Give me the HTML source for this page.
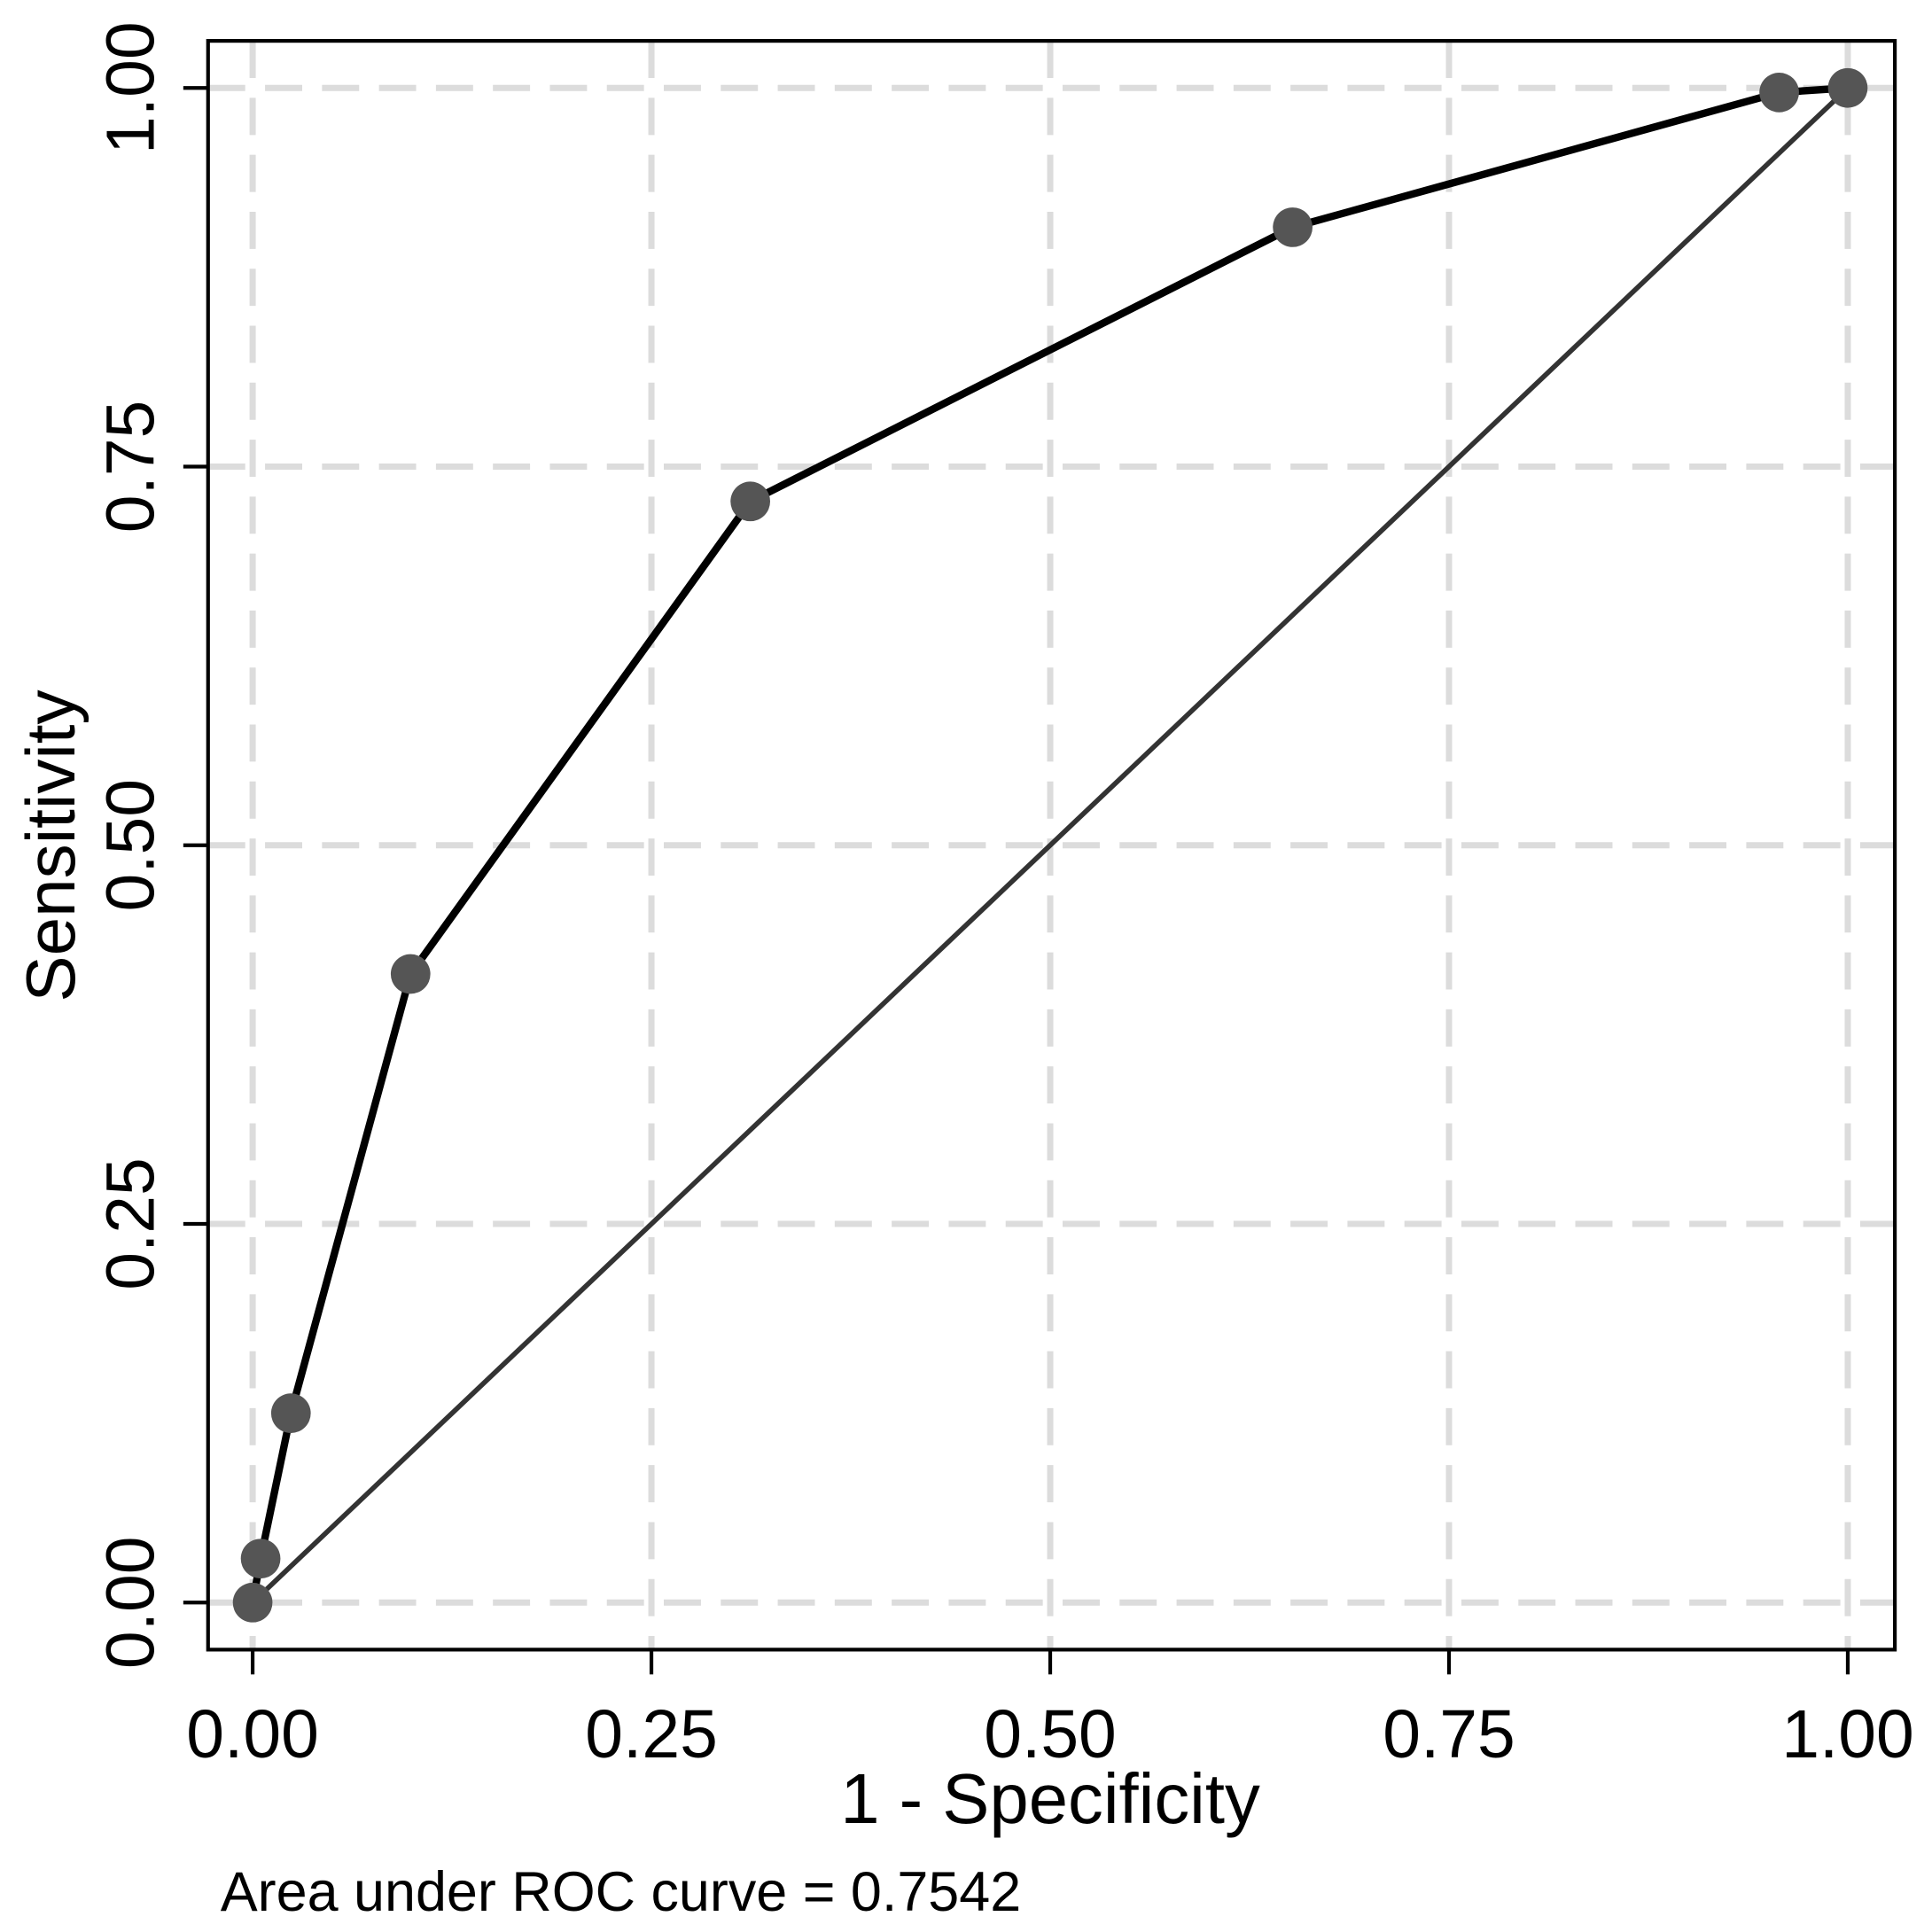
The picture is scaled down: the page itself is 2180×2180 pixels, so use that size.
<!DOCTYPE html>
<html><head><meta charset="utf-8"><style>
html,body{margin:0;padding:0;background:#fff}
svg{display:block}
text{font-family:"Liberation Sans",Arial,sans-serif;fill:#000}
</style></head><body>
<svg id="chart" width="2180" height="2180" viewBox="0 0 1560 1560" xmlns="http://www.w3.org/2000/svg">
<rect x="0" y="0" width="1560" height="1560" fill="#fff"/>
<g id="grid"></g>
<rect x="168" y="33" width="1362" height="1299" fill="none" stroke="#000" stroke-width="3"/>
<g id="ticks"></g>
<g id="marks"></g>
<text x="848" y="1472" font-size="57" text-anchor="middle">1 - Specificity</text>
<text transform="translate(60,683) rotate(-90)" font-size="56" text-anchor="middle">Sensitivity</text>
<text x="178" y="1543" font-size="45">Area under ROC curve = 0.7542</text>
</svg>
<script>
const fpr = [0, 0.005, 0.024, 0.099, 0.312, 0.652, 0.957, 1];
const tpr = [0, 0.029, 0.125, 0.415, 0.727, 0.908, 0.997, 1];
const tickVals = [0, 0.25, 0.5, 0.75, 1];
const tickLabels = ["0.00", "0.25", "0.50", "0.75", "1.00"];

const NS = "http://www.w3.org/2000/svg";
const X0 = 204, X1 = 1492, Y0 = 1294, Y1 = 71;
const sx = v => X0 + v * (X1 - X0);
const sy = v => Y0 - v * (Y0 - Y1);
function mk(tag, attrs, parent) {
  const e = document.createElementNS(NS, tag);
  for (const k in attrs) e.setAttribute(k, attrs[k]);
  parent.appendChild(e);
  return e;
}
const grid = document.getElementById('grid');
const ticks = document.getElementById('ticks');
const marks = document.getElementById('marks');
tickVals.forEach((v, i) => {
  const gx = mk('line', {x1: sx(v), x2: sx(v), y1: 33, y2: 1332, stroke: '#dcdcdc', 'stroke-width': 5, 'stroke-dasharray': '30,16'}, grid);
  
  
  const gy = mk('line', {x1: 168, x2: 1530, y1: sy(v), y2: sy(v), stroke: '#dcdcdc', 'stroke-width': 5, 'stroke-dasharray': '30,16'}, grid);
  
  
  const tx = mk('line', {x1: sx(v), x2: sx(v), y1: 1332, y2: 1352, stroke: '#000', 'stroke-width': 3}, ticks);
  
  
  const ty = mk('line', {x1: 148, x2: 168, y1: sy(v), y2: sy(v), stroke: '#000', 'stroke-width': 3}, ticks);
  
  
  const lx = mk('text', {x: sx(v), y: 1419, 'font-size': 55, 'text-anchor': 'middle'}, ticks);
  lx.textContent = tickLabels[i];
  
  
  const ly = mk('text', {transform: `translate(124,${sy(v)}) rotate(-90)`, 'font-size': 55, 'text-anchor': 'middle'}, ticks);
  ly.textContent = tickLabels[i];
  
  
});
const ref = mk('line', {x1: sx(0), y1: sy(0), x2: sx(1), y2: sy(1), stroke: '#333', 'stroke-width': 4}, marks);


const pts = fpr.map((f, i) => sx(f) + ',' + sy(tpr[i])).join(' ');
const curve = mk('polyline', {points: pts, fill: 'none', stroke: '#000', 'stroke-width': 6}, marks);


fpr.forEach((f, i) => {
  const c = mk('circle', {cx: sx(f), cy: sy(tpr[i]), r: 16, fill: '#555'}, marks);
  
  
});
</script>
</body></html>
